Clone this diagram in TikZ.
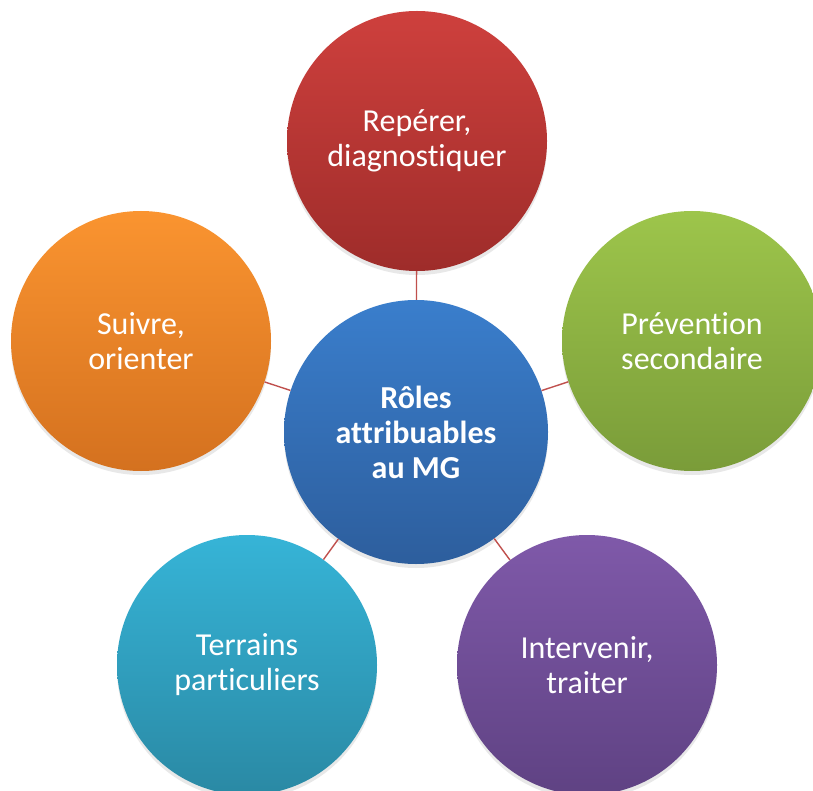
\documentclass[tikz,border=0pt]{standalone}
\usepackage{fontspec}
\setmainfont{Carlito}[Ligatures=NoCommon]
\usetikzlibrary{shadings,shadows}
\definecolor{redT}{RGB}{206,64,61}
\definecolor{redB}{RGB}{158,44,42}
\definecolor{grnT}{RGB}{157,197,75}
\definecolor{grnB}{RGB}{122,156,57}
\definecolor{orgT}{RGB}{250,148,48}
\definecolor{orgB}{RGB}{212,113,31}
\definecolor{cyaT}{RGB}{54,180,215}
\definecolor{cyaB}{RGB}{42,137,164}
\definecolor{purT}{RGB}{127,89,169}
\definecolor{purB}{RGB}{95,66,131}
\definecolor{bluT}{RGB}{58,126,204}
\definecolor{bluB}{RGB}{45,94,157}
\definecolor{linkC}{RGB}{192,80,77}
\tikzset{
  rolecircle/.style={circle, minimum size=260pt, inner sep=0pt, align=center,
    text=white, font=\fontsize{32}{35}\selectfont,
    drop shadow={shadow xshift=0pt, shadow yshift=-4pt, opacity=0.18}},
  link/.style={draw=linkC, line width=1.4pt}
}
\begin{document}
\begin{tikzpicture}[x=1pt,y=-1pt]
\useasboundingbox (0,0) rectangle (813,791);
\clip (0,0) rectangle (813,791);
\fill[white] (0,0) rectangle (813,791);
\node[rolecircle, top color=bluT, bottom color=bluB, font=\fontsize{32}{35}\selectfont\bfseries, minimum size=264pt] (c) at (416,432) {Rôles\\attribuables\\au MG};
\node[rolecircle, top color=redT, bottom color=redB] (t) at (417,141) {Repérer,\\diagnostiquer};
\node[rolecircle, top color=grnT, bottom color=grnB] (r) at (692,341) {Prévention\\secondaire};
\node[rolecircle, top color=orgT, bottom color=orgB] (l) at (141,341) {Suivre,\\orienter};
\node[rolecircle, top color=cyaT, bottom color=cyaB] (bl) at (247,665) {Terrains\\particuliers};
\node[rolecircle, top color=purT, bottom color=purB] (br) at (587,665) {Intervenir,\\traiter};
\draw[link] (c) -- (t);
\draw[link] (c) -- (r);
\draw[link] (c) -- (l);
\draw[link] (c) -- (bl);
\draw[link] (c) -- (br);
\end{tikzpicture}
\end{document}
